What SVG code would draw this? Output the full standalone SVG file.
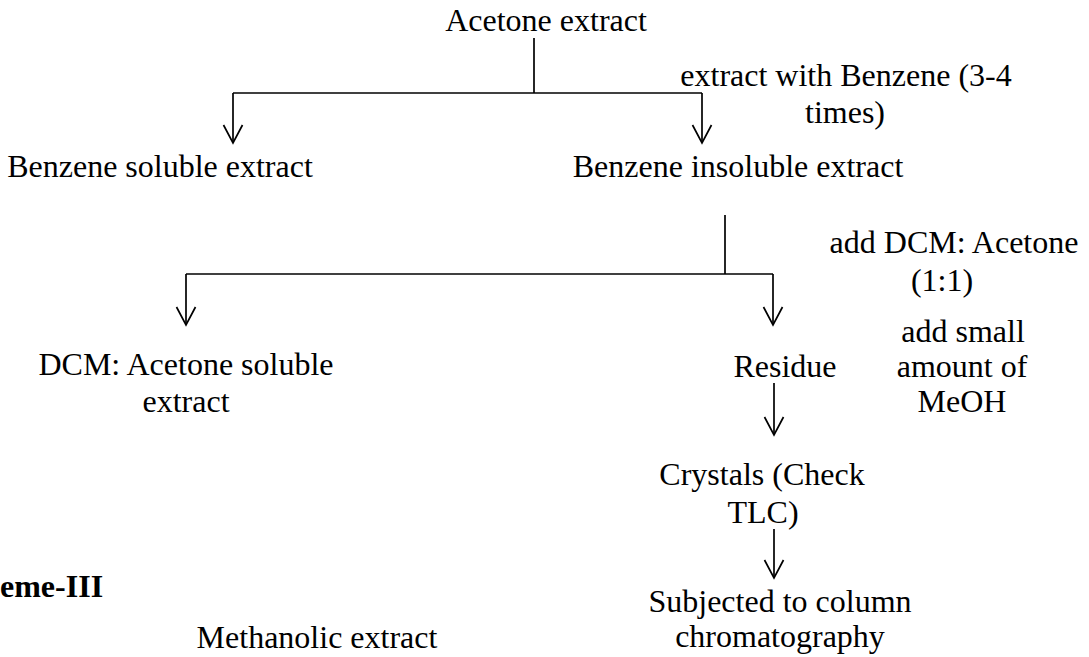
<svg xmlns="http://www.w3.org/2000/svg" width="1089" height="657" viewBox="0 0 1089 657">
<defs>
<style>
text{font-family:"Liberation Serif","Times New Roman",serif;font-size:32px;fill:#000;text-anchor:middle}
.b{font-weight:bold}
.c{fill:none;stroke:#000;stroke-width:1.7}
</style>
<marker id="ah" markerUnits="userSpaceOnUse" markerWidth="22" markerHeight="22" refX="18" refY="10" orient="auto" overflow="visible">
<path d="M0,0.5 L18,10 L0,19.5" fill="none" stroke="#000" stroke-width="1.7"/>
</marker>
</defs>
<rect width="1089" height="657" fill="#fff"/>
<g id="connectors">
<path class="c" d="M534,38 V93"/>
<path class="c" d="M233,93 H702"/>
<path class="c" d="M233,93 V143" marker-end="url(#ah)"/>
<path class="c" d="M702,93 V143" marker-end="url(#ah)"/>
<path class="c" d="M725,215 V274"/>
<path class="c" d="M186,274 H773"/>
<path class="c" d="M186,274 V325" marker-end="url(#ah)"/>
<path class="c" d="M773,274 V325" marker-end="url(#ah)"/>
<path class="c" d="M774,383 V435" marker-end="url(#ah)"/>
<path class="c" d="M774,529 V578" marker-end="url(#ah)"/>
</g>
<g id="acetone-extract"><text x="546" y="31">Acetone extract</text></g>
<g id="label-benzene"><text x="846" y="86">extract with Benzene (3-4</text><text x="845" y="123">times)</text></g>
<g id="benzene-soluble"><text x="160" y="177">Benzene soluble extract</text></g>
<g id="benzene-insoluble"><text x="738" y="177">Benzene insoluble extract</text></g>
<g id="label-dcm"><text x="954" y="253">add DCM: Acetone</text><text x="942" y="291">(1:1)</text></g>
<g id="dcm-soluble"><text x="186" y="375">DCM: Acetone soluble</text><text x="186" y="412">extract</text></g>
<g id="residue"><text x="785" y="377">Residue</text></g>
<g id="label-meoh"><text x="963" y="342">add small</text><text x="962" y="377">amount of</text><text x="962" y="412">MeOH</text></g>
<g id="crystals"><text x="762" y="485">Crystals (Check</text><text x="763" y="523">TLC)</text></g>
<g id="column"><text x="780" y="612">Subjected to column</text><text x="780" y="647">chromatography</text></g>
<g id="scheme-title"><text class="b" x="0" y="597" style="text-anchor:start">eme-III</text></g>
<g id="methanolic"><text x="317" y="648">Methanolic extract</text></g>
</svg>
